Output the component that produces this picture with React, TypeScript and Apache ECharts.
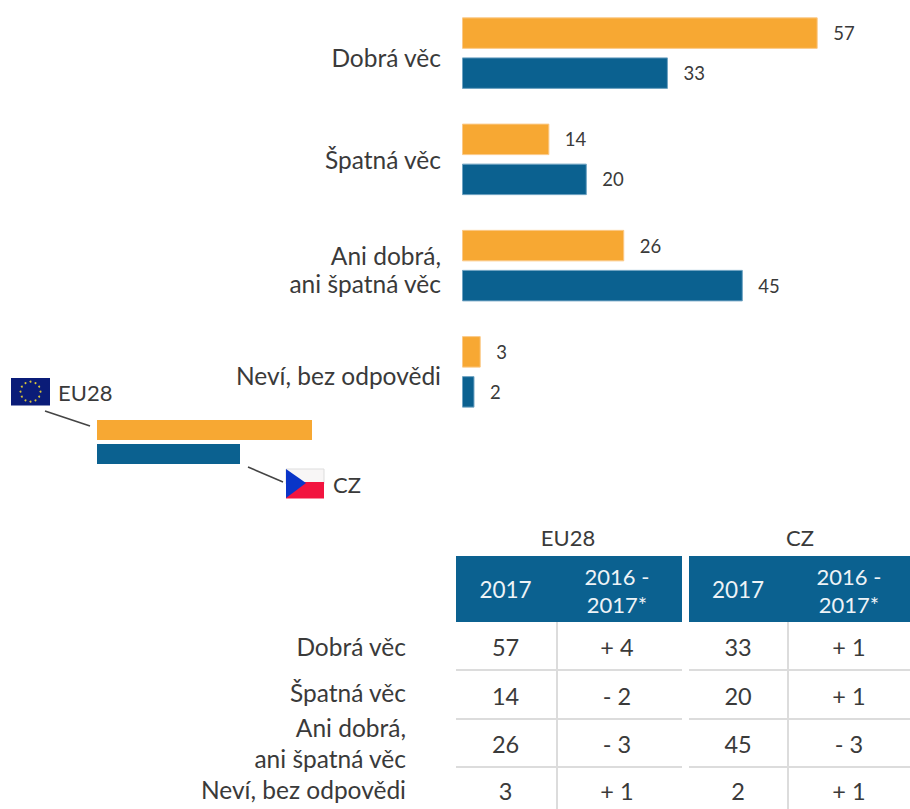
import React, { useEffect, useRef } from "react";
import * as echarts from "echarts";

const categories = ["Dobrá věc", "Špatná věc", "Ani dobrá,\nani špatná věc", "Neví, bez odpovědi"];
const eu28Values = [57, 14, 26, 3];
const czValues = [33, 20, 45, 2];
const eu28Change = ["+ 4", "- 2", "- 3", "+ 1"];
const czChange = ["+ 1", "+ 1", "- 3", "+ 1"];
const yearHead = "2017";
const changeHead = "2016 -\n2017*";

const ORANGE = "#f7a833";
const BLUE = "#0b6190";
const TEXT = "#3a3a3a";
const FONT = "Lato, 'Open Sans', sans-serif";

const chartLabelY = [57, 159, 269.5, 375];
const rowLabelY = [646.5, 692.5, 743, 789];
const rowValueY = [647, 696, 744, 791];

function txt(text: string, x: number, y: number, align: string, size: number, fill = TEXT, lineHeight?: number) {
  return {
    type: "text",
    x,
    y,
    silent: true,
    style: { text, fill, font: `${size}px ${FONT}`, align, verticalAlign: "middle", lineHeight: lineHeight ?? size * 1.2 },
  };
}
function rect(x: number, y: number, width: number, height: number, fill: string, stroke?: string) {
  return { type: "rect", silent: true, shape: { x, y, width, height }, style: { fill, stroke: stroke ?? undefined, lineWidth: stroke ? 1 : 0 } };
}
function line(x1: number, y1: number, x2: number, y2: number, stroke: string, lineWidth = 1.5) {
  return { type: "line", silent: true, shape: { x1, y1, x2, y2 }, style: { stroke, lineWidth } };
}

function legendElements(): any[] {
  const els: any[] = [];
  els.push(rect(11, 378, 39, 27.5, "#0a1c78"));
  for (let i = 0; i < 12; i++) {
    const a = (i / 12) * Math.PI * 2;
    els.push({ type: "circle", silent: true, shape: { cx: 30.5 + 10 * Math.cos(a), cy: 391.7 + 10 * Math.sin(a), r: 1 }, style: { fill: "#d8c53a" } });
  }
  els.push(txt("EU28", 58, 392, "left", 22));
  els.push(line(45, 411, 90, 426, "#444"));
  els.push(rect(97, 420, 215, 20, ORANGE));
  els.push(rect(97, 444, 143, 20, BLUE));
  els.push(line(248, 467, 283, 482, "#444"));
  els.push(rect(286, 469, 38, 15, "#f8f6f6", "#ddd"));
  els.push(rect(286, 482, 38, 16.5, "#f2143f"));
  els.push({ type: "polygon", silent: true, shape: { points: [[286, 469], [306, 483], [286, 498]] }, style: { fill: "#0a35c8" } });
  els.push(txt("CZ", 333, 484.5, "left", 22));
  return els;
}

function tableElements(): any[] {
  const els: any[] = [];
  const blocks = [
    { name: "EU28", x: 456, w: 226, nameX: 568, yearX: 505.5, changeX: 617, sep: 557, vals: eu28Values, change: eu28Change },
    { name: "CZ", x: 689, w: 221, nameX: 800, yearX: 738, changeX: 849, sep: 788, vals: czValues, change: czChange },
  ];
  for (const b of blocks) {
    els.push(txt(b.name, b.nameX, 537, "center", 22));
    els.push(line(b.sep, 622, b.sep, 809, "#dcdcdc", 2));
    [670, 719, 767].forEach((y) => els.push(line(b.x, y, b.x + b.w, y, "#dcdcdc", 2)));
    els.push(rect(b.x, 556, b.w, 66, BLUE));
    els.push(txt(yearHead, b.yearX, 589, "center", 22.5, "#eef3f7"));
    els.push(txt(changeHead, b.changeX, 590, "center", 22, "#eef3f7", 28));
    b.vals.forEach((v, i) => {
      els.push(txt(String(v), b.yearX, rowValueY[i], "center", 23.5));
      els.push(txt(b.change[i], b.changeX, rowValueY[i], "center", 23.5));
    });
  }
  categories.forEach((c, i) => {
    els.push(txt(c, 406, rowLabelY[i], "right", 24.5, TEXT, 31));
  });
  return els;
}

function chartLabels(): any[] {
  return categories.map((c, i) => txt(c, 441, chartLabelY[i], "right", 24.5, TEXT, 28));
}

export default function App() {
  const ref = useRef<HTMLDivElement>(null);
  useEffect(() => {
    document.body.style.margin = "0";
    const chart = echarts.init(ref.current!, undefined, { renderer: "svg" });
    const label = { show: true, position: "right" as const, distance: 15.5, color: TEXT, fontFamily: FONT, fontSize: 18.5 };
    const common = { type: "bar", barWidth: 31.5, barGap: "27%", label };
    chart.setOption({
      animation: false,
      grid: { left: 462, top: -1.8, width: 436.8, height: 426.8 },
      xAxis: { type: "value", min: 0, max: 70, show: false },
      yAxis: {
        type: "category",
        inverse: true,
        data: categories,
        axisLine: { show: false },
        axisTick: { show: false },
        axisLabel: { show: false },
      },
      series: [
        { ...common, name: "EU28", data: eu28Values, itemStyle: { color: ORANGE, borderColor: "#fbc987", borderWidth: 1 } },
        { ...common, name: "CZ", data: czValues, itemStyle: { color: BLUE, borderColor: "#6fa3c2", borderWidth: 1 } },
      ],
      graphic: { elements: [...chartLabels(), ...legendElements(), ...tableElements()] },
    });
    return () => chart.dispose();
  }, []);
  return <div ref={ref} style={{ width: 910, height: 809 }} />;
}
